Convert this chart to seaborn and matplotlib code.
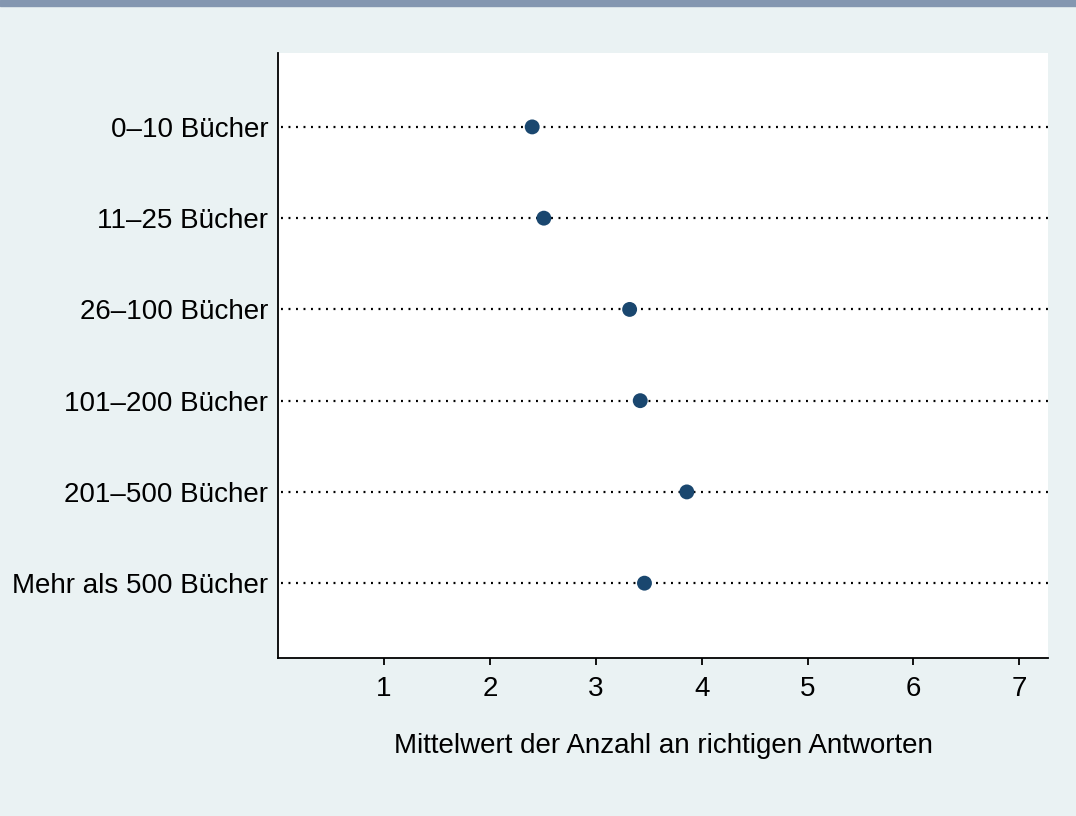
import pandas as pd
import seaborn as sns
import matplotlib
matplotlib.use('Agg')
import matplotlib.pyplot as plt

# data
kategorien = ['0–10 Bücher', '11–25 Bücher', '26–100 Bücher', '101–200 Bücher',
              '201–500 Bücher', 'Mehr als 500 Bücher']
mittelwerte = [2.40, 2.51, 3.32, 3.42, 3.86, 3.46]
x_ticks = [1, 2, 3, 4, 5, 6, 7]

df = pd.DataFrame({'kategorie': kategorien, 'mittelwert': mittelwerte})

sns.set_style('white')
plt.rcParams['font.family'] = ['Liberation Sans', 'DejaVu Sans']
plt.rcParams['lines.scale_dashes'] = False
plt.rcParams['text.color'] = 'black'
plt.rcParams['axes.labelcolor'] = 'black'
plt.rcParams['xtick.color'] = 'black'
plt.rcParams['ytick.color'] = 'black'

bg = '#EAF2F3'
fig = plt.figure(figsize=(10.76, 8.16), dpi=100, facecolor=bg)
ax = fig.add_axes([278 / 1076, 1 - 658 / 816, (1048 - 278) / 1076, (658 - 53) / 816])
ax.set_facecolor('white')

# dotted lines across for each category
ypos = list(range(len(kategorien)))
ax.hlines(ypos, 0.03, 7.27, colors='black', linestyles=(0, (1.4, 4.0)), linewidth=1.6, zorder=1)

sns.scatterplot(data=df, x='mittelwert', y='kategorie', ax=ax, color='#1A476F',
                s=115, edgecolor='none', zorder=3)

ax.set_xlim(0, 7.27)
ax.set_ylim(len(kategorien) - 1 + 0.82, -0.81)
ax.set_xticks(x_ticks)
ax.set_xticklabels([str(t) for t in x_ticks])
ax.set_ylabel('')
ax.set_xlabel('Mittelwert der Anzahl an richtigen Antworten', fontsize=20, labelpad=22)

for s in ['top', 'right']:
    ax.spines[s].set_visible(False)
for s in ['left', 'bottom']:
    ax.spines[s].set_color('black')
    ax.spines[s].set_linewidth(1.3)

ax.tick_params(axis='x', bottom=True, direction='out', length=5, width=1.3, color='black',
               labelsize=20, pad=8)
ax.tick_params(axis='y', left=False, length=0, labelsize=20, pad=7)

# top bar
fig.patches.append(plt.Rectangle((0, 1 - 6 / 816), 1, 6 / 816, transform=fig.transFigure,
                                 color='#8497B0', zorder=0))

fig.savefig('out.png', dpi=100, facecolor=bg)
